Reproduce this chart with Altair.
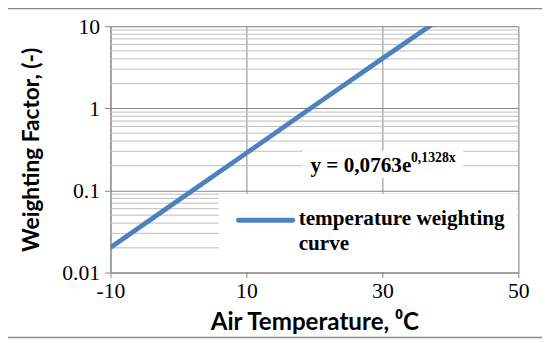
import altair as alt
import pandas as pd

# Series
temps = [-10, 0, 10, 20, 30, 38]
weights = [0.0202, 0.076, 0.285, 1.08, 4.05, 11.5]

x_ticks = [-10, 10, 30, 50]
y_ticks = [0.01, 0.1, 1, 10]
minor_grid = [0.02, 0.03, 0.04, 0.05, 0.06, 0.07, 0.08, 0.09,
              0.2, 0.3, 0.4, 0.5, 0.6, 0.7, 0.8, 0.9,
              2, 3, 4, 5, 6, 7, 8, 9]

series_name = "temperature weighting"
series_name2 = "curve"
eq_main = "y = 0,0763e"
eq_sup = "0,1328x"

BLUE = "#4F81BD"
SERIF = "Liberation Serif"
SANS = "Lato"

W, H = 414, 250

df = pd.DataFrame({"t": temps, "w": weights})
grid_df = pd.DataFrame({"g": minor_grid})

xs = alt.Scale(domain=[-10, 50], nice=False, zero=False)
ys = alt.Scale(type="log", domain=[0.01, 10], nice=False)

border = alt.Chart(pd.DataFrame({"a": [0]})).mark_rect(
    fill=None, stroke="#8a8a8a", strokeWidth=1.5
).encode(x=alt.value(-105), x2=alt.value(460), y=alt.value(-18), y2=alt.value(316))

minor = alt.Chart(grid_df).mark_rule(color="#bdbdbd", strokeWidth=1).encode(
    y=alt.Y("g:Q", scale=ys)
)

legend_box = alt.Chart(pd.DataFrame({"a": [0]})).mark_rect(fill="white").encode(
    x=alt.value(110), x2=alt.value(413), y=alt.value(170), y2=alt.value(249.5)
)

line = alt.Chart(df).mark_line(color=BLUE, strokeWidth=4.8, clip=True).encode(
    x=alt.X("t:Q", scale=xs,
            axis=alt.Axis(values=x_ticks, title="Air Temperature, \u2070C",
                          labelExpr="'' + datum.value",
                          grid=True, gridColor="#868686", gridWidth=1,
                          domainColor="#868686", tickColor="#868686", tickSize=5,
                          labelFont=SERIF, labelFontSize=22, labelColor="black",
                          labelPadding=3, labelFlush=False,
                          titleFont=SANS, titleFontSize=24.5, titleFontWeight="bold",
                          titleColor="black", titlePadding=10)),
    y=alt.Y("w:Q", scale=ys,
            axis=alt.Axis(values=y_ticks, format="~g", title="Weighting Factor, (-)",
                          grid=True, gridColor="#868686", gridWidth=1,
                          domainColor="#868686", tickColor="#868686", tickSize=6,
                          labelFont=SERIF, labelFontSize=22, labelColor="black",
                          labelPadding=5,
                          titleFont=SANS, titleFontSize=23, titleFontWeight="bold",
                          titleColor="black", titlePadding=19)),
)

eq_box = alt.Chart(pd.DataFrame({"a": [0]})).mark_rect(fill="white").encode(
    x=alt.value(195), x2=alt.value(358), y=alt.value(126), y2=alt.value(154)
)
eq_text = alt.Chart(pd.DataFrame({"s": [eq_main]})).mark_text(
    font=SERIF, fontSize=21.5, fontWeight="bold", align="left", baseline="middle", color="black"
).encode(text="s:N", x=alt.value(203), y=alt.value(142))
eq_sup_text = alt.Chart(pd.DataFrame({"s": [eq_sup]})).mark_text(
    font=SERIF, fontSize=14, fontWeight="bold", align="left", baseline="middle", color="black"
).encode(text="s:N", x=alt.value(305), y=alt.value(134))

leg_line = alt.Chart(pd.DataFrame({"a": [0]})).mark_rule(
    color=BLUE, strokeWidth=5, strokeCap="round"
).encode(x=alt.value(130), x2=alt.value(185), y=alt.value(197))
leg_text = alt.Chart(pd.DataFrame({"s": [series_name, series_name2], "dy": [196, 221]})).mark_text(
    font=SERIF, fontSize=21.5, fontWeight="bold", align="left", baseline="middle", color="black"
).encode(text="s:N", x=alt.value(191), y=alt.Y("dy:Q", scale=None))

chart = alt.layer(
    border, minor, legend_box, line, eq_box, eq_text, eq_sup_text, leg_line, leg_text
).properties(
    width=W, height=H,
    autosize=alt.AutoSizeParams(type="none"),
    padding={"left": 104, "top": 16, "right": 24, "bottom": 69},
).configure_view(stroke="#868686", strokeWidth=1).configure_axis(
    labelFont=SERIF
).configure(background="white")

chart.save("out.html", embed_options={"renderer": "svg", "actions": False})
